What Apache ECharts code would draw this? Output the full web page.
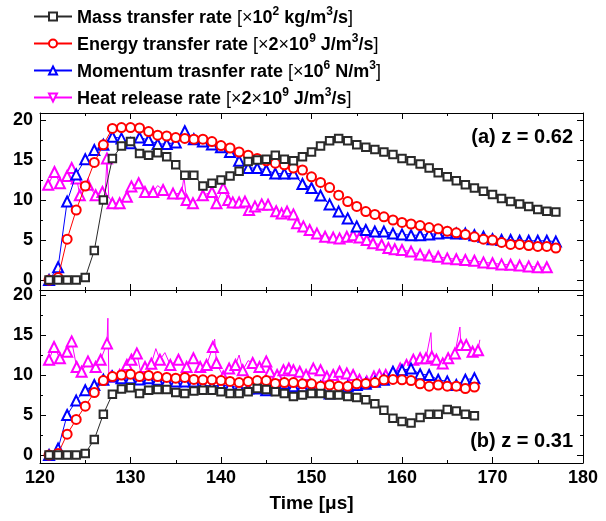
<!DOCTYPE html>
<html><head><meta charset="utf-8">
<script src="https://cdn.jsdelivr.net/npm/echarts@6/dist/echarts.min.js"></script>
<style>html,body{margin:0;padding:0;background:#fff}#c{width:606px;height:521px}</style>
</head><body><div id="c"></div>
<script>
// ---------- data ----------
var seriesNames = ['Mass transfer rate', 'Energy transfer rate', 'Momentum trasnfer rate', 'Heat release rate'];
var xTicks = [120, 130, 140, 150, 160, 170, 180];
var yTicks = [0, 5, 10, 15, 20];
var yMinorTicks = [2.5, 7.5, 12.5, 17.5];

// panel (a) z = 0.62
var timeTop = [121,122,123,124,125,126,127,128,129,130,131,132,133,134,135,136,137,138,139,140,141,142,143,144,145,146,147,148,149,150,151,152,153,154,155,156,157,158,159,160,161,162,163,164,165,166,167,168,169,170,171,172,173,174,175,176,177];
var massTop = [0,0,0,0,0.3,3.7,10.0,15.2,16.75,17.3,15.8,15.6,15.9,15.4,14.4,13.1,13.1,11.75,12.1,12.5,13.0,13.6,14.8,15.0,15.1,15.6,15.1,14.9,15.4,16.0,16.75,17.4,17.7,17.4,16.9,16.6,16.3,16.0,15.7,15.2,14.9,14.5,14.0,13.4,12.9,12.4,11.9,11.5,11.1,10.7,10.2,9.8,9.5,9.2,8.8,8.6,8.5];
var energyTop = [0,0.3,5.1,8.75,11.75,14.7,16.9,18.95,19.05,19.05,19.0,18.55,18.1,18.0,17.8,17.7,17.6,17.6,17.3,16.8,16.5,16.0,15.6,15.2,14.9,14.6,14.4,14.0,13.75,12.9,12.2,11.55,10.6,9.8,9.2,8.55,8.2,7.9,7.5,7.2,7.0,6.8,6.55,6.4,6.1,5.9,5.7,5.4,5.1,5.0,4.7,4.45,4.45,4.3,4.2,4.2,4.0];
var momentumTop = [0,1.6,9.8,13.2,15.1,16.25,16.9,17.9,17.7,17.1,17.8,17.5,17.0,17.0,17.2,18.6,17.6,17.3,16.95,16.6,16.0,14.9,14.0,14.0,13.75,13.3,13.3,13.3,12.0,11.5,10.55,9.45,8.55,7.7,6.7,6.25,6.05,6.05,5.8,5.7,5.6,5.6,5.7,5.8,5.9,5.8,5.8,5.6,5.4,5.1,5.0,5.0,4.9,4.9,4.9,4.9,4.8];
// heat release: [time, value, marker shown (1) or not (0)]
var heatTop = [[120.9,11.9,1],[121.6,13.5,1],[122.2,12.1,1],[123.0,13.0,1],[123.5,14.0,1],[124.05,12.7,1],[124.4,10.6,1],[125.3,11.9,1],[126.15,10.6,1],[126.9,11.0,1],[127.2,10.8,0],[127.4,15.2,1],[127.6,10.4,0],[128.0,9.6,1],[128.8,9.6,1],[129.6,10.4,1],[130.1,11.7,1],[130.9,12.1,1],[131.6,11.0,1],[132.5,11.0,1],[133.0,11.8,0],[133.6,11.25,1],[134.2,10.5,0],[134.7,10.8,1],[135.65,10.8,1],[135.9,12.9,0],[136.2,10.0,1],[136.9,9.6,1],[138.0,10.6,1],[139.0,11.0,1],[139.5,9.6,1],[140.25,11.5,1],[140.8,10.0,1],[141.3,9.7,1],[142.0,9.7,1],[142.65,9.8,1],[143.1,8.75,1],[143.75,9.2,1],[144.5,9.45,1],[145.2,9.4,1],[146.1,8.6,1],[146.7,8.3,1],[147.3,8.55,1],[148.0,8.2,1],[148.4,7.1,1],[149.1,6.7,1],[149.8,6.25,1],[150.6,5.8,1],[151.5,5.4,1],[152.4,5.3,1],[153.1,5.2,1],[153.9,5.4,1],[154.6,5.6,1],[155.3,5.3,1],[156.1,5.0,1],[156.8,4.6,1],[157.75,4.4,1],[158.5,4.0,1],[159.2,3.85,1],[160,3.75,1],[161,3.55,1],[162,3.2,1],[163,3.05,1],[164,2.9,1],[165,2.7,1],[166,2.6,1],[167,2.5,1],[168,2.4,1],[169,2.2,1],[170,2.1,1],[171,1.95,1],[172,1.9,1],[173,1.8,1],[174,1.7,1],[175,1.6,1],[176,1.6,1]];

// panel (b) z = 0.31
var timeBottom = [121,122,123,124,125,126,127,128,129,130,131,132,133,134,135,136,137,138,139,140,141,142,143,144,145,146,147,148,149,150,151,152,153,154,155,156,157,158,159,160,161,162,163,164,165,166,167,168];
var massBottom = [0,0,0,0,0.2,1.95,5.1,7.6,8.25,8.4,7.7,8.1,8.2,8.2,7.8,7.7,8.0,8.1,8.1,7.9,7.7,7.7,7.9,8.3,8.2,7.9,7.7,7.3,7.5,7.7,7.7,7.5,7.5,7.3,7.2,6.9,6.4,5.6,4.6,4.2,4.0,4.7,5.1,5.1,5.7,5.5,5.1,4.9];
var energyBottom = [0,0.2,2.6,4.45,6.1,7.8,9.3,9.8,10.0,10.1,9.8,9.95,9.8,9.7,9.6,9.7,9.45,9.4,9.4,9.3,9.2,9.05,9.2,9.3,9.3,8.95,9.05,9.05,8.9,8.9,8.6,8.75,8.6,8.6,8.9,8.95,9.05,9.4,9.45,9.4,9.3,8.9,8.6,8.75,8.6,8.6,8.3,8.5];
var momentumBottom = [0,0.8,5.0,6.8,8.1,8.75,9.4,9.8,9.6,9.6,9.45,9.6,9.4,9.25,9.2,9.2,9.2,8.75,8.6,8.75,8.6,8.45,8.3,8.3,8.1,8.45,8.95,8.6,8.55,8.45,8.55,7.7,7.8,8.55,8.75,8.9,9.15,9.4,10.4,10.6,10.8,10.1,10.0,9.4,9.2,8.75,9.4,9.6];
var heatBottom = [[121.0,11.9,1],[121.55,13.5,1],[122.2,12.1,1],[123.0,12.9,1],[123.5,14.2,1],[124.05,11.0,1],[124.6,10.4,1],[125.3,11.7,1],[126.15,11.0,1],[126.7,11.9,1],[127.4,13.95,1],[127.5,17.1,0],[127.6,10.2,0],[127.9,9.8,1],[128.8,10.0,1],[129.6,11.25,1],[130.1,11.9,1],[130.7,12.7,1],[131.1,10.5,0],[131.6,11.0,1],[132.3,11.4,1],[132.8,13.3,0],[133.25,11.9,1],[133.8,12.8,0],[134.4,11.25,1],[135.3,11.9,1],[136.2,11.0,1],[136.95,12.1,1],[137.7,11.0,1],[138.4,11.25,1],[139.1,13.5,1],[139.3,14.5,0],[139.5,11.5,1],[140.25,9.8,1],[140.9,10.8,1],[141.6,11.25,1],[142.0,12.5,0],[142.4,10.6,1],[143.0,11.8,0],[143.5,11.5,1],[144.25,11.0,1],[145.0,11.7,1],[145.4,10.4,1],[146.2,10.0,1],[146.9,10.6,1],[147.5,10.8,1],[148.0,10.6,1],[148.7,10.4,1],[149.4,10.0,1],[150.2,10.8,1],[151.0,10.6,1],[151.7,9.8,1],[152.4,10.0,1],[153.1,10.4,1],[153.9,10.2,1],[154.6,10.0,1],[155.3,9.4,1],[156.1,9.2,1],[156.9,9.8,1],[157.5,10.0,1],[158.2,10.0,1],[159.0,10.3,1],[159.8,10.8,1],[160.5,11.25,1],[161.25,11.9,1],[162.0,12.1,1],[162.65,12.1,1],[163.2,15.3,0],[163.3,12.3,1],[163.8,11.9,1],[164.5,11.45,1],[165.1,12.1,1],[165.85,12.7,1],[166.4,16.0,0],[166.5,13.75,1],[167.1,13.75,1],[167.8,12.9,1],[168.4,13.1,1],[168.6,14.4,0]];

var panelLabels = ['(a) z = 0.62', '(b) z = 0.31'];
var xTitle = 'Time [\u03bcs]';

// ---------- build ----------
var FONT = 'Arial, "Liberation Sans", sans-serif';
var colors = ['#2a2a2a', '#ff0000', '#0000ff', '#ff00ff'];
var symbols = ['emptyRect', 'emptyCircle', 'emptyTriangle', 'emptyTriangle'];
var sizes = [7.5, 9, 10, 10];

function pairs(t, v) { return t.map(function (x, i) { return [x, v[i]]; }); }
function heatData(arr) {
  return arr.map(function (p) {
    return p[2] ? { value: [p[0], p[1]] } : { value: [p[0], p[1]], symbol: 'none' };
  });
}

var grids = [
  { left: 40, right: 23, top: 113, height: 177 },
  { left: 40, right: 23, top: 290, height: 173 }
];
var yRange = [[-1.25, 20.875], [-1.0, 20.625]];

var xAxes = [];
var yAxes = [];
[0, 1].forEach(function (g) {
  ['bottom', 'top'].forEach(function (pos) {
    var showLab = (g === 1 && pos === 'bottom');
    xAxes.push({
      type: 'value', gridIndex: g, position: pos, min: 120, max: 180, interval: 10,
      axisLine: { show: true, onZero: false, lineStyle: { color: '#000', width: 1 } },
      axisTick: { show: true, inside: true, length: 6, lineStyle: { color: '#000' } },
      minorTick: { show: true, splitNumber: 2, length: 3, lineStyle: { color: '#000' } },
      splitLine: { show: false },
      axisLabel: { show: showLab, color: '#000', fontFamily: FONT, fontWeight: 'bold', fontSize: 18, margin: 6 },
      name: showLab ? xTitle : '', nameLocation: 'middle', nameGap: 31,
      nameTextStyle: { color: '#000', fontFamily: FONT, fontWeight: 'bold', fontSize: 19 }
    });
  });
  ['left', 'right'].forEach(function (pos) {
    yAxes.push({
      type: 'value', gridIndex: g, position: pos, min: yRange[g][0], max: yRange[g][1],
      axisLine: { show: true, onZero: false, lineStyle: { color: '#000', width: 1 } },
      axisTick: { show: true, inside: true, length: 6, customValues: yTicks, lineStyle: { color: '#000' } },
      splitLine: { show: false },
      axisLabel: { show: pos === 'left', customValues: yTicks, color: '#000', fontFamily: FONT, fontWeight: 'bold', fontSize: 18, margin: 7 }
    });
    yAxes.push({
      type: 'value', gridIndex: g, position: pos, min: yRange[g][0], max: yRange[g][1],
      axisLine: { show: false },
      axisTick: { show: true, inside: true, length: 3, customValues: yMinorTicks, lineStyle: { color: '#000' } },
      splitLine: { show: false },
      axisLabel: { show: false }
    });
  });
});

var series = [];
var panelData = [
  { t: timeTop, vals: [massTop, energyTop, momentumTop], heat: heatTop },
  { t: timeBottom, vals: [massBottom, energyBottom, momentumBottom], heat: heatBottom }
];
panelData.forEach(function (pd, g) {
  for (var k = 0; k < 4; k++) {
    series.push({
      type: 'line', name: seriesNames[k], xAxisIndex: g * 2, yAxisIndex: g * 4,
      data: k < 3 ? pairs(pd.t, pd.vals[k]) : heatData(pd.heat),
      symbol: symbols[k], symbolSize: sizes[k], showAllSymbol: true,
      color: colors[k],
      lineStyle: { color: colors[k], width: 1 },
      itemStyle: { color: colors[k], borderColor: colors[k], borderWidth: 1 },
      z: k === 3 ? 2 : 3 + (2 - k),
      animation: false, silent: true
    });
  }
});

var legendFmt = {
  'Mass transfer rate': '{b|Mass transfer rate }{r|[\u00d7}{b|10}{s|2}{b| kg/m}{s|3}{b|/s}{r|]}',
  'Energy transfer rate': '{b|Energy transfer rate }{r|[\u00d7}{b|2}{r|\u00d7}{b|10}{s|9}{b| J/m}{s|3}{b|/s}{r|]}',
  'Momentum trasnfer rate': '{b|Momentum trasnfer rate }{r|[\u00d7}{b|10}{s|6}{b| N/m}{s|3}{r|]}',
  'Heat release rate': '{b|Heat release rate }{r|[\u00d7}{b|2}{r|\u00d7}{b|10}{s|9}{b| J/m}{s|3}{b|/s}{r|]}'
};

var option = {
  animation: false,
  backgroundColor: '#fff',
  grid: grids,
  xAxis: xAxes,
  yAxis: yAxes,
  legend: {
    orient: 'vertical', left: 33, top: 6, padding: 0, itemWidth: 38, itemHeight: 10, itemGap: 6,
    data: [
      { name: seriesNames[0] },
      { name: seriesNames[1] },
      { name: seriesNames[2] },
      { name: seriesNames[3], symbolRotate: 180 }
    ],
    selectedMode: false,
    formatter: function (n) { return legendFmt[n]; },
    textStyle: {
      color: '#000', fontFamily: FONT,
      rich: {
        b: { fontFamily: FONT, fontSize: 18, fontWeight: 'bold', lineHeight: 21, color: '#000', verticalAlign: 'bottom' },
        r: { fontFamily: FONT, fontSize: 18, fontWeight: 'normal', lineHeight: 21, color: '#000', verticalAlign: 'bottom' },
        s: { fontFamily: FONT, fontSize: 12, fontWeight: 'bold', lineHeight: 13, color: '#000', verticalAlign: 'top' }
      }
    }
  },
  graphic: [
    { type: 'text', right: 33, top: 127, style: { text: panelLabels[0], font: 'bold 20px ' + FONT, fill: '#000' } },
    { type: 'text', right: 33, top: 431, style: { text: panelLabels[1], font: 'bold 20px ' + FONT, fill: '#000' } }
  ],
  series: series
};

var chart = echarts.init(document.getElementById('c'), null, { renderer: 'canvas' });
chart.setOption(option);
</script>
</body></html>
